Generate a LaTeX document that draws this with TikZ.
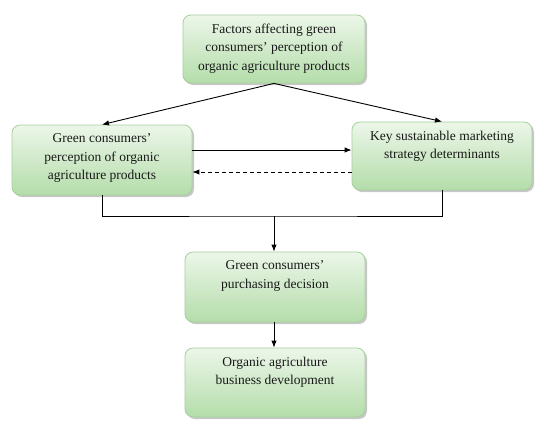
\documentclass[tikz,border=0pt]{standalone}
\usepackage{fontspec}
\setmainfont{Liberation Serif}
\usetikzlibrary{shadows,arrows.meta}
\definecolor{boxtop}{RGB}{236,246,233}
\definecolor{boxbot}{RGB}{180,221,170}
\definecolor{boxline}{RGB}{165,208,155}
\definecolor{txtc}{RGB}{25,25,25}
\tikzset{
  box/.style={draw=boxline, line width=0.8pt, rounded corners=8pt, top color=boxtop, bottom color=boxbot,
    drop shadow={shadow xshift=2pt, shadow yshift=-2pt, fill=black, opacity=0.22},
    inner sep=0pt},
  txt/.style={anchor=north, align=center, inner sep=0pt, text=txtc, font=\fontsize{13.5}{18.5}\selectfont},
  arr/.style={-{Latex[length=7pt,width=5.5pt]}, line width=0.9pt},
  link/.style={line width=0.9pt}
}
\begin{document}
\begin{tikzpicture}[x=1pt,y=-1pt]
\useasboundingbox (0,0) rectangle (550,426);
\node[box, minimum width=182pt, minimum height=68pt] (f) at (274,49) {};
\node[box, minimum width=180pt, minimum height=70pt] (l) at (102,160) {};
\node[box, minimum width=180pt, minimum height=68pt] (r) at (442,156) {};
\node[box, minimum width=180pt, minimum height=70pt] (m) at (275,287) {};
\node[box, minimum width=180pt, minimum height=69pt] (b) at (275,382.5) {};

\node[txt] (ft) at ([yshift=-9pt]f.north) {Factors affecting green\\consumers' perception of\\organic agriculture products};
\node[txt] (lt) at ([yshift=-9pt]l.north) {Green consumers'\\perception of organic\\agriculture products};
\node[txt] (rt) at ([yshift=-9pt]r.north) {Key sustainable marketing\\strategy determinants};
\node[txt] (mt) at ([yshift=-9pt]m.north) {Green consumers'\\purchasing decision};
\node[txt] (bt) at ([yshift=-9pt]b.north) {Organic agriculture\\business development};

\draw[arr] (f.south) -- (l.north);
\draw[arr] (f.south) -- (r.north);

\coordinate (s1) at ([yshift=10pt]l.east);
\coordinate (s2) at ([yshift=-12pt]l.east);
\draw[arr] (s1) -- (s1 -| r.west);
\draw[arr, dashed, dash pattern=on 4pt off 3pt] (s2 -| r.west) -- (s2);

\coordinate (j) at (274,216);
\draw[link] (l.south) |- (j) -| (r.south);
\draw[arr] (j) -- (j |- m.north);
\draw[arr] (m.south -| j) -- (j |- b.north);
\end{tikzpicture}
\end{document}
